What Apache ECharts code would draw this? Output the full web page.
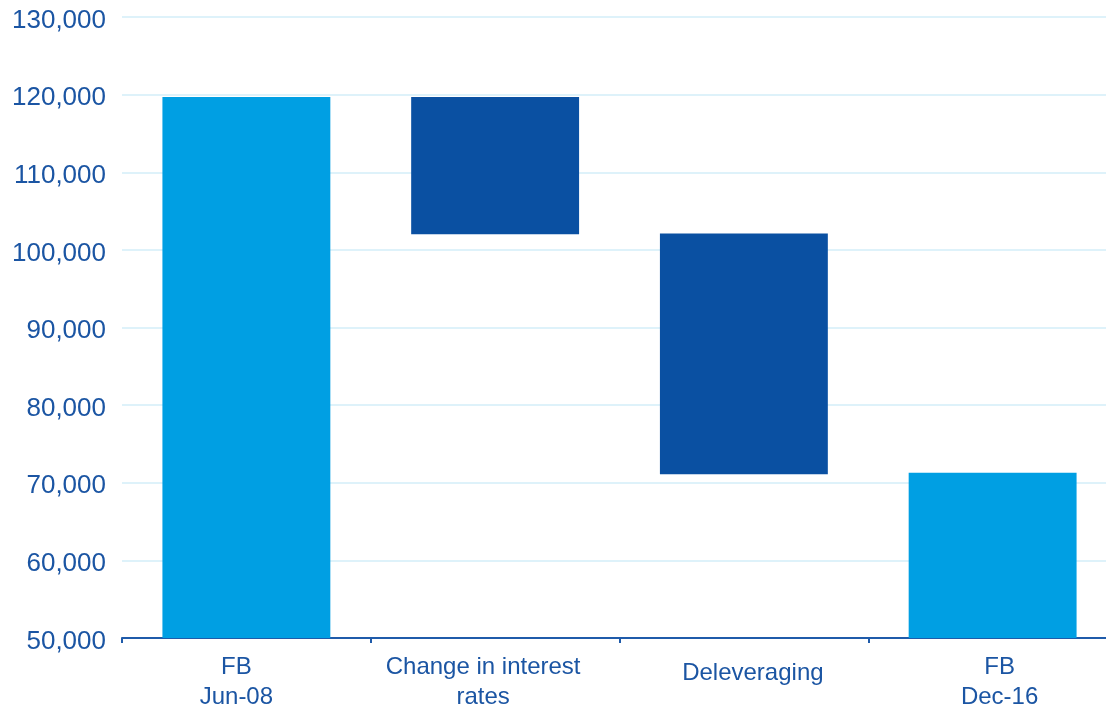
<!DOCTYPE html>
<html>
<head>
<meta charset="utf-8">
<script src="https://cdn.jsdelivr.net/npm/echarts@6/dist/echarts.min.js"></script>
<style>
html,body{margin:0;padding:0;background:#fff;}
#chart{width:1106px;height:706px;}
</style>
</head>
<body>
<div id="chart"></div>
<script>
const categories = ['FB\nJun-08', 'Change in interest\nrates', 'Deleveraging', 'FB\nDec-16'];
const barBottom = [0, 102000, 71100, 0];
const barTop = [119700, 119700, 102100, 71300];
const barKind = ['total', 'change', 'change', 'total'];
const yTicks = { min: 50000, max: 130000, interval: 10000 };

const colors = { total: '#009FE3', change: '#0A50A2' };
const textColor = '#1B55A3';
const font = 'Liberation Sans, Arial';
const baseText = { color: textColor, fontFamily: font, fontSize: 24, lineHeight: 30 };
// small horizontal nudges of the category labels as in the original picture
const labelPads = [[0, 20, 0, 0], [0, 24, 0, 0], [12, 0, 0, 18], [0, 0, 0, 14]];
const rich = {};
labelPads.forEach((p, i) => { rich['l' + i] = Object.assign({}, baseText, { padding: p }); });

const chart = echarts.init(document.getElementById('chart'));
chart.setOption({
  animation: false,
  grid: { left: 122, right: -11, top: 17, bottom: 68, containLabel: false, outerBoundsMode: 'none' },
  xAxis: {
    type: 'category',
    data: categories,
    axisLine: { lineStyle: { color: '#1F5BAA', width: 2 } },
    axisTick: { show: true, length: 5, lineStyle: { color: '#1F5BAA', width: 2 } },
    axisLabel: Object.assign({}, baseText, {
      margin: 14, interval: 0,
      formatter: (v, i) => v.split('\n').map(s => '{l' + i + '|' + s + '}').join('\n'),
      rich: rich
    })
  },
  yAxis: {
    type: 'value',
    min: yTicks.min, max: yTicks.max, interval: yTicks.interval,
    axisLine: { show: false },
    axisTick: { show: false },
    splitLine: { lineStyle: { color: '#D3EEF9', width: 1.5 } },
    axisLabel: {
      color: textColor, fontFamily: font, fontSize: 26, margin: 16,
      formatter: v => '{v|' + v.toLocaleString('en-US') + '}',
      rich: { v: { color: textColor, fontFamily: font, fontSize: 26, padding: [7, 0, 0, 0] } }
    }
  },
  series: [
    {
      type: 'bar', stack: 'w', silent: true,
      data: barBottom,
      itemStyle: { color: 'transparent' },
      barWidth: '67.5%'
    },
    {
      type: 'bar', stack: 'w',
      data: barTop.map((t, i) => t - barBottom[i]),
      barWidth: '67.5%',
      itemStyle: { color: p => colors[barKind[p.dataIndex]] }
    }
  ]
});
</script>
</body>
</html>
